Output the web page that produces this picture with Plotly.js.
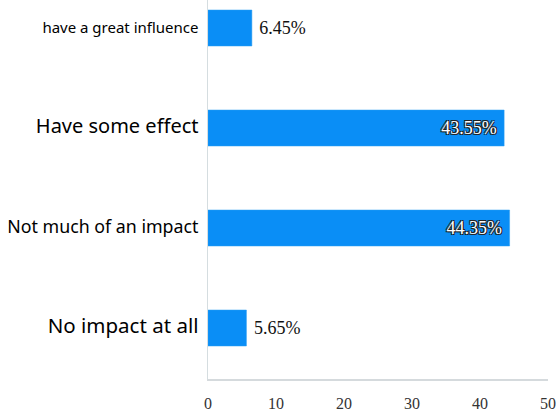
<!DOCTYPE html>
<html>
<head>
<meta charset="utf-8">
<script src="https://cdn.plot.ly/plotly-3.0.1.min.js"></script>
<style>html,body{margin:0;padding:0;background:#fff;}#chart{width:556px;height:416px;}</style>
</head>
<body>
<div id="chart"></div>
<script>
const categories = ["No impact at all", "Not much of an impact", "Have some effect", "have a great influence"];
const values = [5.65, 44.35, 43.55, 6.45];
const valueLabels = ["5.65%", "44.35%", "43.55%", "6.45%"];
const labelSizes = [20.5, 17.8, 20, 15];
const xTicks = [0, 10, 20, 30, 40, 50];

const insideMask = values.map(v => v > 20);
const positions = insideMask.map(m => m ? "inside" : "outside");
const textColors = insideMask.map(m => m ? "#ffffff" : "#111111");
const shownText = valueLabels.map((t, i) => insideMask[i] ? t + "\u00a0" : "\u00a0" + t);

const trace = {
  type: "bar",
  orientation: "h",
  x: values,
  y: categories.map((c, i) => i),
  width: 0.36,
  marker: {color: "#0a8ef6", line: {color: "#2a9cf0", width: 0.5}},
  text: shownText,
  textposition: positions,
  insidetextanchor: "end",
  textangle: 0,
  constraintext: "none",
  cliponaxis: false,
  textfont: {
    family: "Liberation Serif, Times New Roman, serif",
    size: 18,
    color: textColors,
    shadow: "1px 1px 0 #222, -1px -1px 0 #222, 1px -1px 0 #222, -1px 1px 0 #222"
  },
  outsidetextfont: {family: "Liberation Serif, Times New Roman, serif", size: 18, color: "#111111", shadow: "none"},
  hoverinfo: "skip"
};

const layout = {
  width: 556,
  height: 416,
  margin: {l: 208, r: 8, t: 0, b: 37},
  paper_bgcolor: "#ffffff",
  plot_bgcolor: "#ffffff",
  showlegend: false,
  xaxis: {
    range: [0, 50],
    tickvals: xTicks,
    ticktext: xTicks.map(String),
    showgrid: false,
    zeroline: false,
    showline: true,
    linecolor: "#d5dadd",
    linewidth: 1.5,
    ticks: "",
    ticklabelstandoff: 9,
    ticklabeloverflow: "allow",
    tickfont: {family: "Liberation Serif, Times New Roman, serif", size: 16, color: "#333333"},
    fixedrange: true
  },
  yaxis: {
    range: [-0.51, 3.28],
    tickvals: categories.map((c, i) => i),
    ticktext: categories.map((c, i) => '<span style="font-size:' + labelSizes[i] + 'px">' + c + '</span>'),
    showgrid: false,
    zeroline: false,
    showline: true,
    linecolor: "#d5dde0",
    linewidth: 1.5,
    ticks: "",
    ticklabelstandoff: 5,
    tickfont: {family: "Noto Sans, DejaVu Sans, sans-serif", size: 15, color: "#000000"},
    fixedrange: true
  }
};

Plotly.newPlot("chart", [trace], layout, {staticPlot: true, displayModeBar: false});
</script>
</body>
</html>
